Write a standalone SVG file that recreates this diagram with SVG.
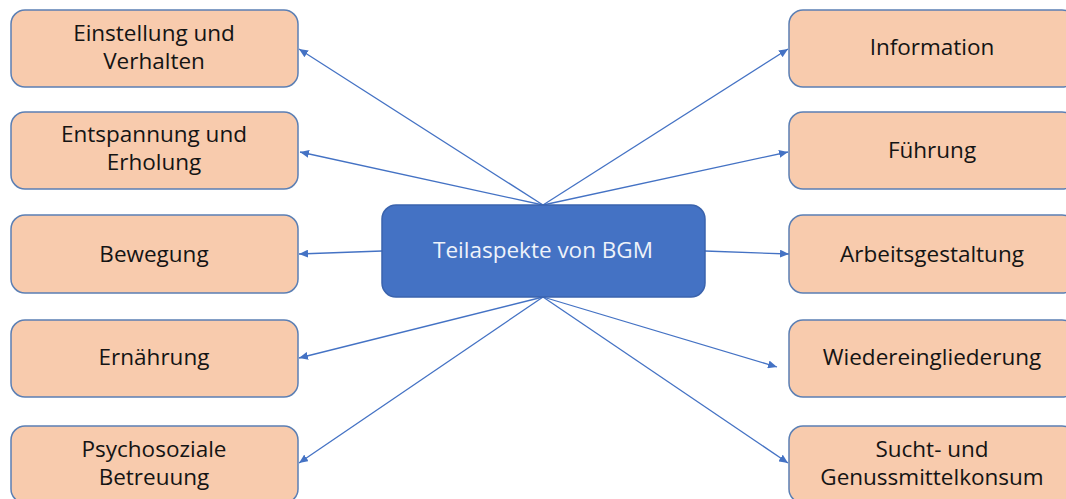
<svg xmlns="http://www.w3.org/2000/svg" width="1066" height="499" viewBox="0 0 1066 499">
  <style>
    .box { fill: #f8cbad; stroke: #5b7fb4; stroke-width: 1.5; }
    .hub { fill: #4472c4; stroke: #3a63ad; stroke-width: 1.5; }
    .lbl { font-family: "Open Sans", "Liberation Sans", sans-serif; font-size: 22.5px; fill: #141414; text-anchor: middle; }
    .hublbl { font-family: "Open Sans", "Liberation Sans", sans-serif; font-size: 22.5px; fill: #eef2fa; text-anchor: middle; }
    .edge { stroke: #4472c4; stroke-width: 1.3; fill: none; marker-end: url(#arrow); }
  </style>
  <defs>
    <marker id="arrow" markerUnits="userSpaceOnUse" markerWidth="9" markerHeight="8" refX="9" refY="4" orient="auto">
      <path d="M0,0 L9,4 L0,8 z" fill="#4472c4"/>
    </marker>
  </defs>
  <rect width="1066" height="499" fill="#ffffff"/>

  <!-- connectors from the central node -->
  <g id="connectors">
    <line class="edge" x1="543" y1="205" x2="299" y2="49"/>
    <line class="edge" x1="543" y1="205" x2="300" y2="152"/>
    <line class="edge" x1="543" y1="205" x2="788" y2="49"/>
    <line class="edge" x1="543" y1="205" x2="788" y2="152"/>
    <line class="edge" x1="382" y1="251" x2="299" y2="254"/>
    <line class="edge" x1="705" y1="251" x2="789" y2="254"/>
    <line class="edge" x1="543" y1="297" x2="299" y2="358"/>
    <line class="edge" x1="543" y1="297" x2="299" y2="463"/>
    <line class="edge" x1="543" y1="297" x2="777" y2="367"/>
    <line class="edge" x1="543" y1="297" x2="788" y2="463"/>
  </g>

  <!-- central node -->
  <g id="hub">
    <rect class="hub" x="382" y="205" width="323" height="92" rx="14"/>
    <text class="hublbl" x="543" y="258">Teilaspekte von BGM</text>
  </g>

  <!-- left column -->
  <g id="einstellung">
    <rect class="box" x="11" y="10" width="287" height="77" rx="14"/>
    <text class="lbl" x="154" y="41">Einstellung und<tspan x="154" dy="28">Verhalten</tspan></text>
  </g>
  <g id="entspannung">
    <rect class="box" x="11" y="112" width="287" height="77" rx="14"/>
    <text class="lbl" x="154" y="142">Entspannung und<tspan x="154" dy="28">Erholung</tspan></text>
  </g>
  <g id="bewegung">
    <rect class="box" x="11" y="215" width="287" height="78" rx="14"/>
    <text class="lbl" x="154" y="262">Bewegung</text>
  </g>
  <g id="ernaehrung">
    <rect class="box" x="11" y="320" width="287" height="77" rx="14"/>
    <text class="lbl" x="154" y="365">Ernährung</text>
  </g>
  <g id="psychosozial">
    <rect class="box" x="11" y="426" width="287" height="77" rx="14"/>
    <text class="lbl" x="154" y="457">Psychosoziale<tspan x="154" dy="28">Betreuung</tspan></text>
  </g>

  <!-- right column -->
  <g id="information">
    <rect class="box" x="789" y="10" width="287" height="77" rx="14"/>
    <text class="lbl" x="932" y="55">Information</text>
  </g>
  <g id="fuehrung">
    <rect class="box" x="789" y="112" width="287" height="77" rx="14"/>
    <text class="lbl" x="932" y="158">Führung</text>
  </g>
  <g id="arbeitsgestaltung">
    <rect class="box" x="789" y="215" width="287" height="78" rx="14"/>
    <text class="lbl" x="932" y="262">Arbeitsgestaltung</text>
  </g>
  <g id="wiedereingliederung">
    <rect class="box" x="789" y="320" width="287" height="77" rx="14"/>
    <text class="lbl" x="932" y="365">Wiedereingliederung</text>
  </g>
  <g id="sucht">
    <rect class="box" x="789" y="426" width="287" height="77" rx="14"/>
    <text class="lbl" x="932" y="457">Sucht- und<tspan x="932" dy="28">Genussmittelkonsum</tspan></text>
  </g>
</svg>
